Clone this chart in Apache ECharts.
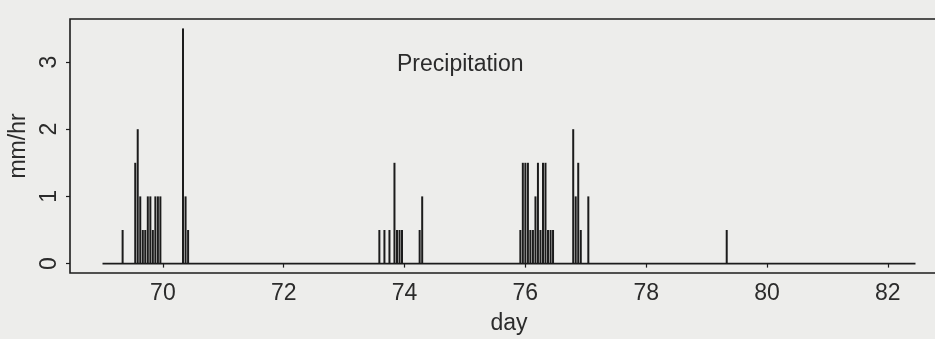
<!DOCTYPE html>
<html>
<head>
<meta charset="utf-8">
<script src="https://cdn.jsdelivr.net/npm/echarts@6/dist/echarts.min.js"></script>
<style>
  html, body { margin: 0; padding: 0; background: #ededeb; }
  #chart { width: 935px; height: 339px; }
</style>
</head>
<body>
<div id="chart"></div>
<script>
// ---- data (hourly precipitation, time in days) ----
const precipDay = [
  69.333, 69.542, 69.583, 69.625, 69.667, 69.708, 69.750, 69.792, 69.833, 69.875, 69.917, 69.958,
  70.333, 70.375, 70.417,
  73.583, 73.667, 73.750, 73.833, 73.875, 73.917, 73.958,
  74.250, 74.292,
  75.917, 75.958, 76.000, 76.042, 76.083, 76.125, 76.167, 76.208, 76.250, 76.292, 76.333, 76.375, 76.417, 76.458,
  76.792, 76.833, 76.875, 76.917, 77.042,
  79.333
];
const precipRate = [
  0.5, 1.5, 2.0, 1.0, 0.5, 0.5, 1.0, 1.0, 0.5, 1.0, 1.0, 1.0,
  3.5, 1.0, 0.5,
  0.5, 0.5, 0.5, 1.5, 0.5, 0.5, 0.5,
  0.5, 1.0,
  0.5, 1.5, 1.5, 1.5, 0.5, 0.5, 1.0, 1.5, 0.5, 1.5, 1.5, 0.5, 0.5, 0.5,
  2.0, 1.0, 1.5, 0.5, 1.0,
  0.5
];
const recordStart = 69.0;
const recordEnd = 82.458;
const xTicks = [70, 72, 74, 76, 78, 80, 82];
const yTicks = [0, 1, 2, 3];
const xRange = [68.462, 82.996];
const yRange = [-0.14, 3.64];
const titleText = 'Precipitation';
const xName = 'day';
const yName = 'mm/hr';

// ---- chart ----
const ink = '#1c1c1c';
const textInk = '#2b2b2b';
const font = 'Liberation Sans, Arial, Helvetica, sans-serif';
const chart = echarts.init(document.getElementById('chart'), null, { renderer: 'canvas' });

const barData = precipDay.map((d, i) => [d, precipRate[i]]);

chart.setOption({
  backgroundColor: '#ededeb',
  animation: false,
  title: {
    text: titleText,
    left: 392, top: 48,
    textStyle: { fontFamily: font, fontSize: 23, fontWeight: 'normal', color: textInk }
  },
  grid: {
    left: 70, top: 19, width: 878, height: 254,
    outerBoundsMode: 'none', containLabel: false,
    show: true, borderColor: ink, borderWidth: 1.6, backgroundColor: 'transparent'
  },
  xAxis: {
    type: 'value', min: xRange[0], max: xRange[1],
    name: xName, nameLocation: 'middle', nameGap: 39,
    nameTextStyle: { fontFamily: font, fontSize: 23, color: textInk },
    axisLine: { show: false },
    axisTick: { show: true, inside: false, length: 4, customValues: xTicks, lineStyle: { color: ink, width: 1.2 } },
    axisLabel: { customValues: xTicks, margin: 9, fontFamily: font, fontSize: 23, color: textInk },
    splitLine: { show: false }
  },
  yAxis: {
    type: 'value', min: yRange[0], max: yRange[1],
    name: yName, nameLocation: 'middle', nameGap: 38, nameRotate: 90,
    nameTextStyle: { fontFamily: font, fontSize: 23, color: textInk },
    axisLine: { show: false },
    axisTick: { show: true, inside: false, length: 4, customValues: yTicks, lineStyle: { color: ink, width: 1.2 } },
    axisLabel: { customValues: yTicks, rotate: 90, margin: 9, fontFamily: font, fontSize: 23, color: textInk },
    splitLine: { show: false }
  },
  series: [
    {
      type: 'line',
      data: [[recordStart, 0], [recordEnd, 0]],
      symbol: 'none',
      lineStyle: { color: ink, width: 1.6 },
      z: 2
    },
    {
      type: 'bar',
      data: barData,
      barWidth: 2,
      barGap: '-100%',
      itemStyle: { color: ink },
      z: 3
    }
  ]
});
</script>
</body>
</html>
